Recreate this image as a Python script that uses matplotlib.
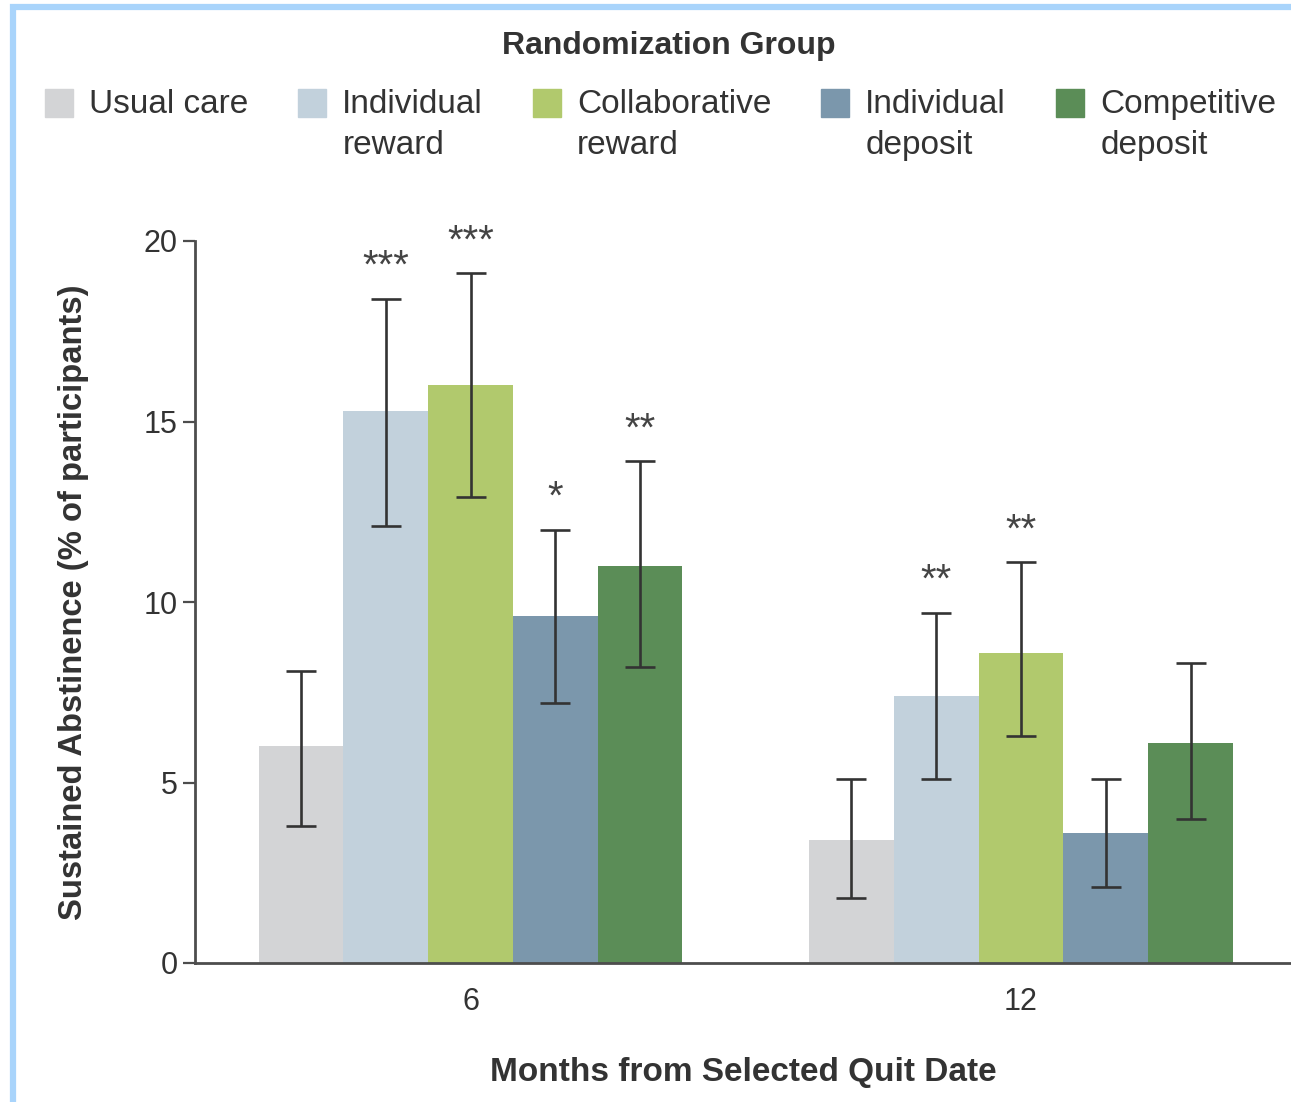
import matplotlib
matplotlib.use("Agg")
import matplotlib.pyplot as plt
import numpy as np
from matplotlib.patches import Rectangle

plt.rcParams['font.family'] = ['Liberation Sans', 'DejaVu Sans']

# sustained abstinence, % of participants (6 mo, 12 mo) with 95% CI
months = ['6', '12']
groups = ['Usual care', 'Individual\nreward', 'Collaborative\nreward',
          'Individual\ndeposit', 'Competitive\ndeposit']
colors = ['#d3d4d6', '#c2d1dc', '#b1c96d', '#7b97ac', '#5b8d57']

abstinence = [[6.0, 3.4], [15.3, 7.4], [16.0, 8.6], [9.6, 3.6], [11.0, 6.1]]
ci_low = [[3.8, 1.8], [12.1, 5.1], [12.9, 6.3], [7.2, 2.1], [8.2, 4.0]]
ci_high = [[8.1, 5.1], [18.4, 9.7], [19.1, 11.1], [12.0, 5.1], [13.9, 8.3]]
stars = [['', ''], ['***', '**'], ['***', '**'], ['*', ''], ['**', '']]

W, H = 1291, 1102
ink = '#333333'

fig = plt.figure(figsize=(W / 100, H / 100), dpi=100)
ax = fig.add_axes([195 / W, 1 - 963 / H, (W - 195) / W, (963 - 241) / H])

width = 0.154
pos = np.arange(len(months))
for i, (name, col) in enumerate(zip(groups, colors)):
    x = pos + (i - 2) * width
    vals = np.array(abstinence[i])
    err = [vals - np.array(ci_low[i]), np.array(ci_high[i]) - vals]
    ax.bar(x, vals, width, color=col, linewidth=0, yerr=err, capsize=10.5,
           error_kw=dict(ecolor=ink, elinewidth=1.9, capthick=1.9))
    for xi, hi, s in zip(x, ci_high[i], stars[i]):
        if s:
            ax.annotate(s, (xi, hi), xytext=(0, 15), textcoords='offset points',
                        ha='center', va='baseline', fontsize=29, color='#444444',
                        annotation_clip=False)

ax.set_xlim(-0.5005, 1.4905)
ax.set_ylim(0, 20)
ax.set_yticks([0, 5, 10, 15, 20])
ax.set_xticks(pos)
ax.set_xticklabels(months)

for side in ['top', 'right']:
    ax.spines[side].set_visible(False)
for side in ['left', 'bottom']:
    ax.spines[side].set_color('#4d4d4d')
    ax.spines[side].set_linewidth(2)
ax.tick_params(axis='y', length=9, width=1.6, color='#4d4d4d', pad=3.5,
               labelsize=22, labelcolor=ink)
ax.tick_params(axis='x', length=0, pad=17, labelsize=22, labelcolor=ink)

ax.set_ylabel('Sustained Abstinence (% of participants)', fontsize=23.6,
              fontweight='bold', color=ink)
ax.yaxis.set_label_coords(-0.097, 0.5)
ax.set_xlabel('Months from Selected Quit Date', fontsize=24,
              fontweight='bold', color=ink, labelpad=29)

# legend row across the top
fig.text(669 / W, 1 - 54 / H, 'Randomization Group', ha='center', va='baseline',
         fontsize=23, fontweight='bold', color=ink)
fig.canvas.draw()
renderer = fig.canvas.get_renderer()
x = 45
for name, col in zip(groups, colors):
    fig.patches.append(Rectangle((x / W, 1 - 117 / H), 28 / W, 28 / H,
                                 transform=fig.transFigure, color=col))
    t = fig.text((x + 44) / W, 1 - 89 / H, name, ha='left', va='top',
                 fontsize=24, linespacing=1.42, color=ink)
    x = t.get_window_extent(renderer).x1 + 50

# light blue frame
fig.patches.append(Rectangle((13 / W, -0.05), 1.1, 1.05 - 7 / H,
                             transform=fig.transFigure, fill=False,
                             edgecolor='#a9d4fb', linewidth=4.5))

fig.savefig('out.png', dpi=100)
